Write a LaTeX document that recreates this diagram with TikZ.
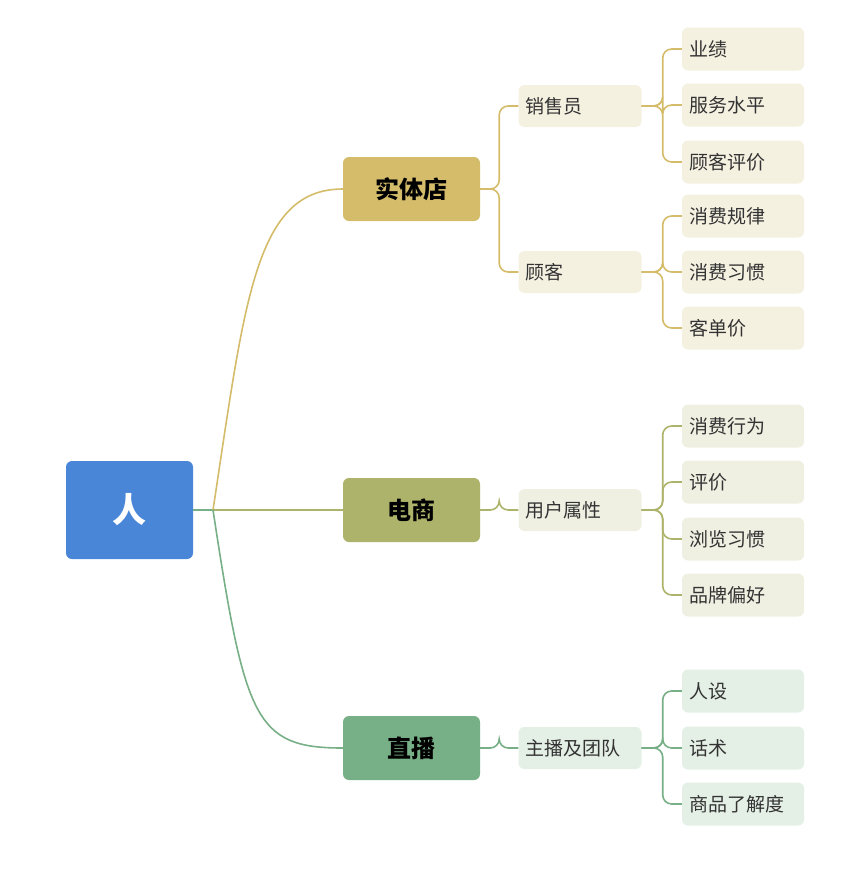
\documentclass[tikz,border=0pt]{standalone}
\usepackage{fontspec}
\setmainfont{Noto Sans CJK SC}
\usetikzlibrary{positioning}
\definecolor{rootblue}{HTML}{4A86D8}
\definecolor{shopc}{HTML}{D4BC6A}
\definecolor{shopl}{HTML}{F5F1E1}
\definecolor{ecomc}{HTML}{ADB36A}
\definecolor{ecoml}{HTML}{EFF0E2}
\definecolor{livec}{HTML}{77AF86}
\definecolor{livel}{HTML}{E4EFE6}
\tikzset{
  rootnode/.style={
    rectangle, rounded corners=6pt, fill=rootblue,
    minimum width=127pt, minimum height=98pt,
    text=white, font=\fontsize{34}{40}\selectfont\bfseries},
  mainnode/.style={
    rectangle, rounded corners=6pt,
    minimum width=137pt, minimum height=64pt,
    font=\fontsize{24}{28}\selectfont\bfseries},
  subnode/.style={
    rectangle, rounded corners=6pt,
    minimum width=123pt, minimum height=42pt,
    text width=109pt, align=left,
    font=\fontsize{19}{22}\selectfont, text=black!80},
  leafnode/.style={
    rectangle, rounded corners=6pt,
    minimum width=122pt, minimum height=43pt,
    text width=108pt, align=left,
    font=\fontsize{19}{22}\selectfont, text=black!80},
  link/.style={draw, line width=1.6pt, rounded corners=9pt}
}
\begin{document}
\begin{tikzpicture}[x=1pt,y=-1pt]
  \useasboundingbox (0,0) rectangle (865,871);

  \node[rootnode] (Ren) at (129.5,510) {人};
  \coordinate (Hub) at (213,510);

  \node[mainnode, fill=shopc] (Shop) at (411.5,189) {实体店};
  \node[mainnode, fill=ecomc] (Ecom) at (411.5,510) {电商};
  \node[mainnode, fill=livec] (Live) at (411.5,748) {直播};

  \node[subnode, fill=shopl] (Sales) at (580,106) {销售员};
  \node[subnode, fill=shopl] (Guest) at (580,272) {顾客};
  \node[subnode, fill=ecoml] (Attr) at (580,510) {用户属性};
  \node[subnode, fill=livel] (Host) at (580,748) {主播及团队};

  % root links
  \draw[link, livec] (Ren.east) -- (Hub);
  \draw[link, shopc] (Hub) .. controls (245,300) and (255,189) .. (Shop.west);
  \draw[link, ecomc] (Hub) -- (Ecom.west);
  \draw[link, livec] (Hub) .. controls (245,720) and (255,748) .. (Live.west);

  % second level
  \foreach \p/\c/\col in {Shop/Sales/shopc, Shop/Guest/shopc,
                          Ecom/Attr/ecomc, Live/Host/livec}
    \draw[link, \col] (\p.east) -- ++(19,0) |- (\c.west);

  % leaves
  \foreach \n/\y/\t/\p/\col/\bg in {
      a/49/业绩/Sales/shopc/shopl,
      b/105/服务水平/Sales/shopc/shopl,
      c/162/顾客评价/Sales/shopc/shopl,
      d/216/消费规律/Guest/shopc/shopl,
      e/272/消费习惯/Guest/shopc/shopl,
      f/328/客单价/Guest/shopc/shopl,
      g/426/消费行为/Attr/ecomc/ecoml,
      h/482/评价/Attr/ecomc/ecoml,
      i/539/浏览习惯/Attr/ecomc/ecoml,
      j/595/品牌偏好/Attr/ecomc/ecoml,
      k/691/人设/Host/livec/livel,
      l/748/话术/Host/livec/livel,
      m/804/商品了解度/Host/livec/livel}{
    \node[leafnode, fill=\bg] (Leaf\n) at (743,\y) {\t};
    \draw[link, \col] (\p.east) -- ++(21,0) |- (Leaf\n.west);
  }
\end{tikzpicture}
\end{document}
